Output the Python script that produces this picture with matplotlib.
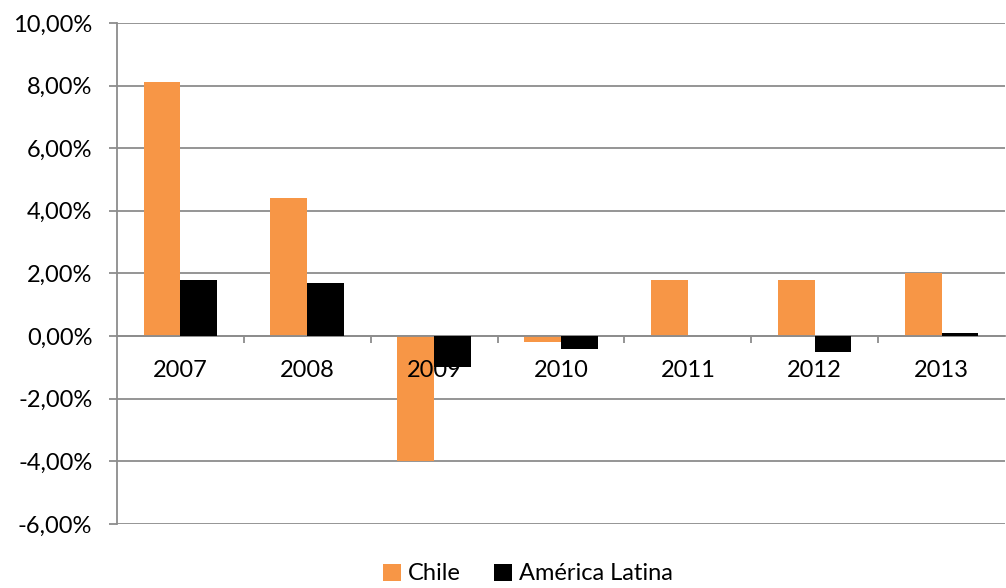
import numpy as np
import matplotlib.pyplot as plt
from matplotlib.ticker import FuncFormatter, FixedLocator

# datos
anios = ['2007', '2008', '2009', '2010', '2011', '2012', '2013']
chile = [8.1, 4.4, -4.0, -0.2, 1.8, 1.8, 2.0]              # %
america_latina = [1.8, 1.7, -1.0, -0.4, 0.0, -0.5, 0.1]    # %

plt.rcParams['font.family'] = ['Lato', 'DejaVu Sans']

fig = plt.figure(figsize=(10.06, 5.88), dpi=100)
ax = fig.add_axes([0.1163, 0.1088, 0.8827, 0.8522])

x = np.arange(len(anios))
w = 0.29
gris = '#8c8c8c'

ax.bar(x - w/2, chile, w, color='#F79646', label='Chile', zorder=2)
ax.bar(x + w/2, america_latina, w, color='black', label='América Latina', zorder=3)

ax.set_xlim(-0.5, len(anios) - 0.5)
ax.set_ylim(-6, 10)
ax.set_yticks(np.arange(-6, 10.1, 2))
ax.yaxis.set_major_formatter(FuncFormatter(lambda v, p: ('%.2f%%' % v).replace('.', ',')))
ax.yaxis.grid(True, color=gris, linewidth=1.3, zorder=0)
ax.tick_params(axis='y', length=5.8, width=1.3, color=gris, labelsize=17, pad=12)

# eje x en cero
for s in ['top', 'right']:
    ax.spines[s].set_visible(False)
ax.spines['left'].set_color(gris)
ax.spines['left'].set_linewidth(1.3)
ax.spines['bottom'].set_position(('data', 0))
ax.spines['bottom'].set_color(gris)
ax.spines['bottom'].set_linewidth(1.3)
ax.set_xticks(x)
ax.set_xticklabels(anios)
ax.xaxis.set_minor_locator(FixedLocator(np.arange(0.5, len(anios) - 0.5, 1)))
ax.tick_params(axis='x', which='major', length=0, labelsize=17, pad=17)
ax.tick_params(axis='x', which='minor', length=5, width=1.3, color=gris)
ax.xaxis.set_zorder(2.5)

fig.legend(*ax.get_legend_handles_labels(), loc='lower center', bbox_to_anchor=(0.525, -0.03),
           ncol=2, frameon=False, fontsize=17, handlelength=0.75, handleheight=0.75,
           handletextpad=0.3, columnspacing=1.4)

plt.savefig('out.png', dpi=100)
